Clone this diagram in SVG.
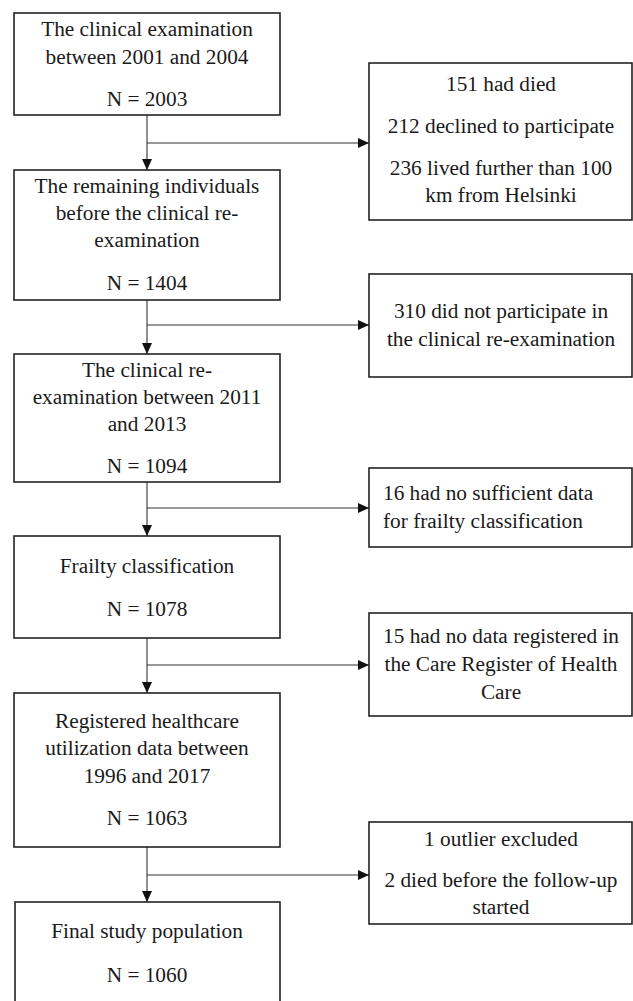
<svg xmlns="http://www.w3.org/2000/svg" width="633" height="1001" viewBox="0 0 633 1001">
<style>
.box{fill:#fff;stroke:#222;stroke-width:1.6}
.c{text-anchor:middle}
.ln{stroke:#333;stroke-width:1.1;fill:none}
</style>
<defs>
<marker id="ah" viewBox="0 0 11 10" refX="11" refY="5" markerWidth="11" markerHeight="10" orient="auto" markerUnits="userSpaceOnUse">
<path d="M0,0 L11,5 L0,10 Z" fill="#111"/>
</marker>
</defs>
<rect width="633" height="1001" fill="#fff"/>
<g id="connectors">
<line class="ln" x1="147" y1="115" x2="147" y2="170" marker-end="url(#ah)"/>
<line class="ln" x1="147" y1="143" x2="369" y2="143" marker-end="url(#ah)"/>
<line class="ln" x1="147" y1="300" x2="147" y2="354" marker-end="url(#ah)"/>
<line class="ln" x1="147" y1="325" x2="369" y2="325" marker-end="url(#ah)"/>
<line class="ln" x1="147" y1="482" x2="147" y2="536" marker-end="url(#ah)"/>
<line class="ln" x1="147" y1="508" x2="369" y2="508" marker-end="url(#ah)"/>
<line class="ln" x1="147" y1="638" x2="147" y2="693" marker-end="url(#ah)"/>
<line class="ln" x1="147" y1="665" x2="369" y2="665" marker-end="url(#ah)"/>
<line class="ln" x1="147" y1="847" x2="147" y2="902" marker-end="url(#ah)"/>
<line class="ln" x1="147" y1="875" x2="369" y2="875" marker-end="url(#ah)"/>
</g>
<g id="nodes" font-family="'Liberation Serif', 'Times New Roman', serif" font-size="21.3" fill="#1a1a1a">
<g id="b1">
<rect class="box" x="14" y="13" width="266" height="102"/>
<text class="c" x="147" y="36">The clinical examination</text>
<text class="c" x="147" y="64">between 2001 and 2004</text>
<text class="c" x="147" y="106">N = 2003</text>
</g>
<g id="r1">
<rect class="box" x="369" y="63" width="263" height="157"/>
<text class="c" x="501" y="91">151 had died</text>
<text class="c" x="501" y="133">212 declined to participate</text>
<text class="c" x="501" y="175">236 lived further than 100</text>
<text class="c" x="501" y="202">km from Helsinki</text>
</g>
<g id="b2">
<rect class="box" x="14" y="170" width="266" height="130"/>
<text class="c" x="147" y="193">The remaining individuals</text>
<text class="c" x="147" y="220">before the clinical re-</text>
<text class="c" x="147" y="247">examination</text>
<text class="c" x="147" y="290">N = 1404</text>
</g>
<g id="r2">
<rect class="box" x="369" y="274" width="263" height="103"/>
<text class="c" x="501" y="318">310 did not participate in</text>
<text class="c" x="501" y="346">the clinical re-examination</text>
</g>
<g id="b3">
<rect class="box" x="14" y="354" width="266" height="128"/>
<text class="c" x="147" y="377">The clinical re-</text>
<text class="c" x="147" y="404">examination between 2011</text>
<text class="c" x="147" y="431">and 2013</text>
<text class="c" x="147" y="473">N = 1094</text>
</g>
<g id="r3">
<rect class="box" x="369" y="468" width="263" height="79"/>
<text x="383" y="500">16 had no sufficient data</text>
<text x="383" y="528">for frailty classification</text>
</g>
<g id="b4">
<rect class="box" x="14" y="536" width="266" height="102"/>
<text class="c" x="147" y="573">Frailty classification</text>
<text class="c" x="147" y="616">N = 1078</text>
</g>
<g id="r4">
<rect class="box" x="369" y="613" width="263" height="103"/>
<text class="c" x="501" y="643">15 had no data registered in</text>
<text class="c" x="501" y="671">the Care Register of Health</text>
<text class="c" x="501" y="699">Care</text>
</g>
<g id="b5">
<rect class="box" x="14" y="693" width="266" height="154"/>
<text class="c" x="147" y="728">Registered healthcare</text>
<text class="c" x="147" y="755">utilization data between</text>
<text class="c" x="147" y="783">1996 and 2017</text>
<text class="c" x="147" y="825">N = 1063</text>
</g>
<g id="r5">
<rect class="box" x="369" y="822" width="263" height="102"/>
<text class="c" x="501" y="846">1 outlier excluded</text>
<text class="c" x="501" y="887">2 died before the follow-up</text>
<text class="c" x="501" y="914">started</text>
</g>
<g id="b6">
<rect class="box" x="15" y="902" width="265" height="110"/>
<text class="c" x="147" y="938">Final study population</text>
<text class="c" x="147" y="982">N = 1060</text>
</g>
</g>
</svg>
